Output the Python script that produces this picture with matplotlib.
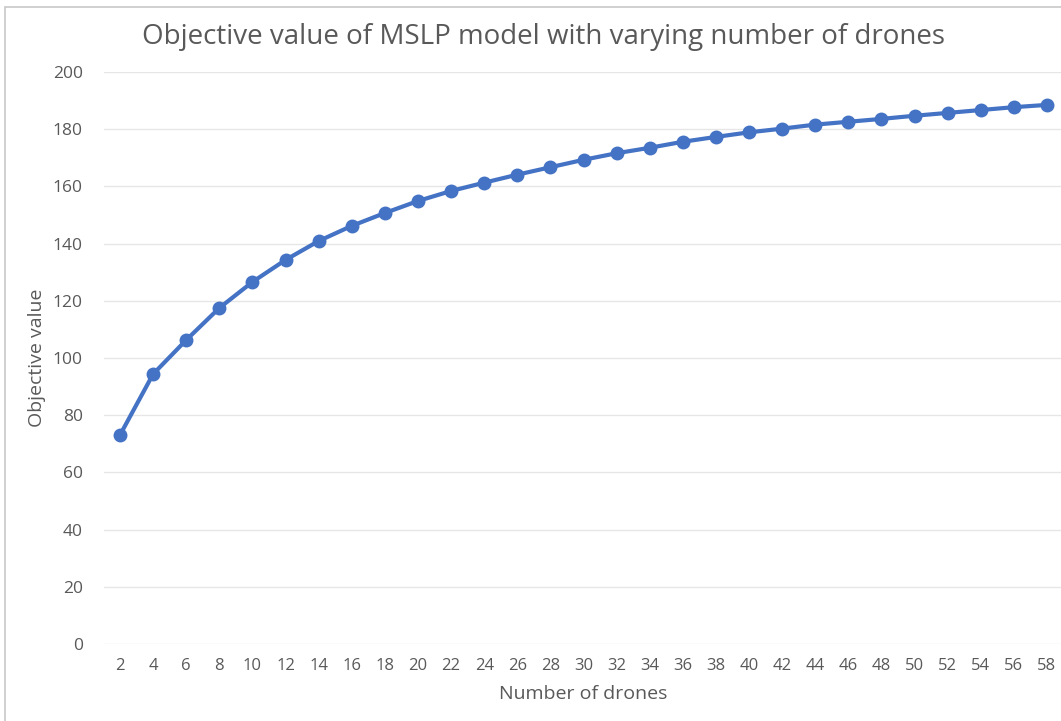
import matplotlib
matplotlib.use('Agg')
from matplotlib import pyplot as plt
from matplotlib.patches import Rectangle

drones = [2, 4, 6, 8, 10, 12, 14, 16, 18, 20, 22, 24, 26, 28, 30,
          32, 34, 36, 38, 40, 42, 44, 46, 48, 50, 52, 54, 56, 58]
objective = [73.1, 94.4, 106.3, 117.5, 126.6, 134.3, 140.9, 146.2, 150.7, 154.9,
             158.4, 161.3, 164.1, 166.7, 169.3, 171.6, 173.5, 175.6, 177.3, 178.9,
             180.2, 181.6, 182.6, 183.6, 184.7, 185.7, 186.7, 187.7, 188.5]
y_ticks = [0, 20, 40, 60, 80, 100, 120, 140, 160, 180, 200]

plt.rcParams['font.family'] = ['Open Sans', 'DejaVu Sans']

fig = plt.figure(figsize=(10.61, 7.21), dpi=100)
# chart frame, cut off at right and bottom like the screenshot
fig.patches.append(Rectangle((5 / 1061, -0.1), 1.2, 1 - 7 / 721 + 0.1, transform=fig.transFigure,
                             fill=False, edgecolor='#c8c8c8', linewidth=1.2))
ax = fig.add_axes([103.5 / 1061, 1 - 644 / 721, 960 / 1061, 572 / 721])

idx = list(range(len(drones)))
ax.plot(idx, objective, color='#4472C4', linewidth=3.0, marker='o', markersize=9,
        solid_capstyle='round', solid_joinstyle='round')

ax.set_xlim(-0.5, len(drones) - 0.5)
ax.set_ylim(0, 200)
ax.set_yticks(y_ticks)
ax.set_xticks(idx)
ax.set_xticklabels([str(d) for d in drones])
ax.grid(axis='y', color='#e6e6e6', linewidth=1)
ax.set_axisbelow(True)
for s in ax.spines.values():
    s.set_visible(False)
ax.tick_params(length=0, labelsize=12, labelcolor='#595959', pad=10)
ax.tick_params(axis='y', labelsize=12.5, pad=15)

ax.set_xlabel('Number of drones', fontsize=14, color='#595959', labelpad=8)
ax.set_ylabel('Objective value', fontsize=14, color='#595959', labelpad=5)
fig.text(543 / 1061, 1 - 37 / 721, 'Objective value of MSLP model with varying number of drones',
         ha='center', va='center', fontsize=20, color='#595959')

fig.savefig('out.png', dpi=100)
